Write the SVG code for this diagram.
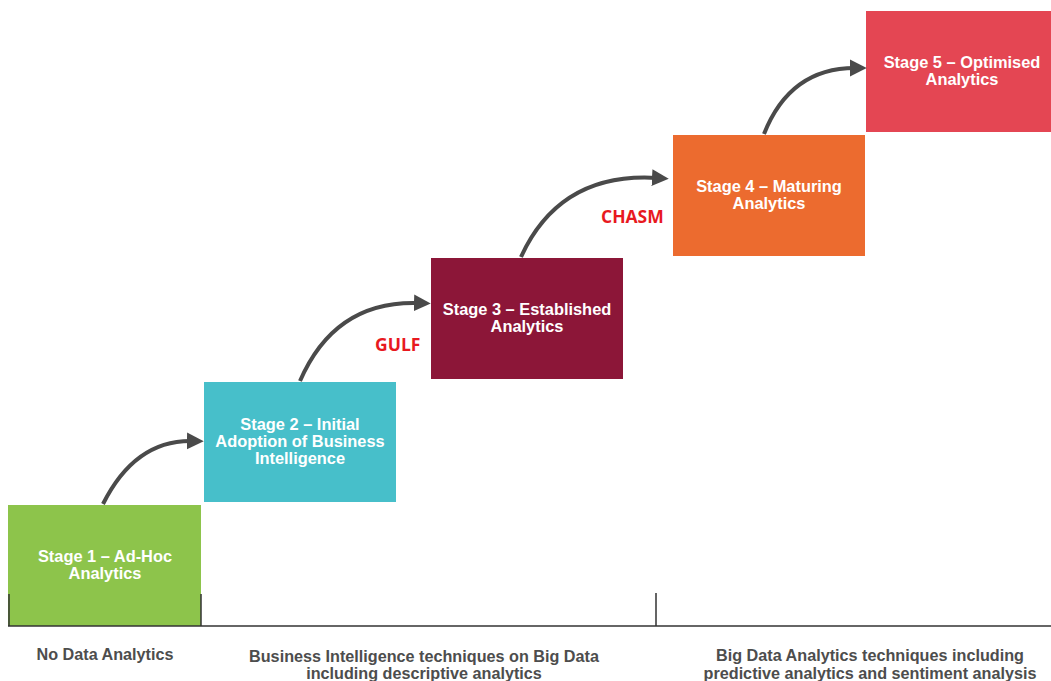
<svg xmlns="http://www.w3.org/2000/svg" width="1051" height="681" viewBox="0 0 1051 681">
  <style>
    .stage text { font-family: "Liberation Sans", Arial, sans-serif; font-weight: bold; font-size: 16.4px; fill: #ffffff; text-anchor: middle; }
    .phase { font-family: "Liberation Sans", Arial, sans-serif; font-weight: bold; font-size: 16.2px; fill: #4d4d4d; text-anchor: middle; }
    .gap { font-family: "Open Sans", "Liberation Sans", sans-serif; font-weight: bold; font-size: 17.5px; fill: #e8191f; }
    .link { fill: none; stroke: #4a4a4a; stroke-width: 4; marker-end: url(#head); }
    .axis { stroke: #333333; stroke-width: 1.5; fill: none; }
  </style>
  <defs>
    <marker id="head" viewBox="0 0 10 10" refX="3" refY="5" markerWidth="4.2" markerHeight="5" orient="auto" markerUnits="strokeWidth">
      <path d="M0,0 L10,5 L0,10 Z" fill="#4a4a4a"/>
    </marker>
  </defs>
  <rect width="1051" height="681" fill="#ffffff"/>

  <g id="stage1" class="stage">
    <rect x="8" y="505" width="193" height="121" fill="#8dc44b"/>
    <text x="105" y="562">Stage 1 – Ad-Hoc</text>
    <text x="105" y="579">Analytics</text>
  </g>
  <g id="stage2" class="stage">
    <rect x="204" y="382" width="192" height="120" fill="#47bfca"/>
    <text x="300" y="430">Stage 2 – Initial</text>
    <text x="300" y="447">Adoption of Business</text>
    <text x="300" y="464">Intelligence</text>
  </g>
  <g id="stage3" class="stage">
    <rect x="431" y="258" width="192" height="121" fill="#8c1638"/>
    <text x="527" y="315">Stage 3 – Established</text>
    <text x="527" y="332">Analytics</text>
  </g>
  <g id="stage4" class="stage">
    <rect x="673" y="135" width="192" height="121" fill="#ec6b2f"/>
    <text x="769" y="192">Stage 4 – Maturing</text>
    <text x="769" y="209">Analytics</text>
  </g>
  <g id="stage5" class="stage">
    <rect x="866" y="11" width="185" height="121" fill="#e44653"/>
    <text x="962" y="68">Stage 5 – Optimised</text>
    <text x="962" y="85">Analytics</text>
  </g>

  <g id="connectors">
    <path class="link" d="M103,504 Q135,440 192,441"/>
    <path class="link" d="M300,381 Q335,300 419,303"/>
    <path class="link" d="M521,257 Q560,172 657,178"/>
    <path class="link" d="M764,134 Q790,68 855,68"/>
  </g>

  <g id="gap-labels">
    <text class="gap" x="375" y="351">GULF</text>
    <text class="gap" x="601" y="223">CHASM</text>
  </g>

  <g id="axis">
    <path class="axis" d="M8,626 H1051"/>
    <path class="axis" d="M9,594 V626 M201,594 V626 M656,593 V626"/>
  </g>

  <g id="phases">
    <text class="phase" x="105" y="660">No Data Analytics</text>
    <text class="phase" x="424" y="662">Business Intelligence techniques on Big Data</text>
    <text class="phase" x="424" y="679">including descriptive analytics</text>
    <text class="phase" x="870" y="661">Big Data Analytics techniques including</text>
    <text class="phase" x="870" y="679">predictive analytics and sentiment analysis</text>
  </g>
</svg>
